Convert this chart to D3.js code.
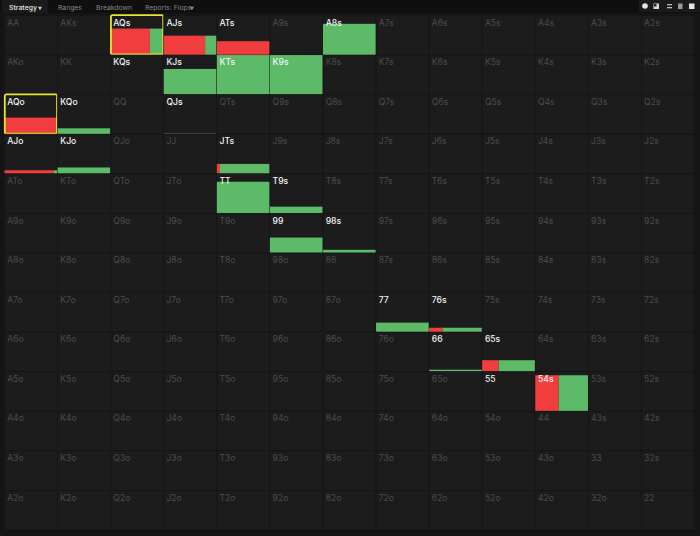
<!DOCTYPE html>
<html>
<head>
<meta charset="utf-8">
<script src="https://cdnjs.cloudflare.com/ajax/libs/d3/7.8.5/d3.min.js"></script>
<style>
  html, body { margin: 0; padding: 0; background: #151515; overflow: hidden; }
  text { font-family: Inter, "Noto Sans", sans-serif; }
</style>
</head>
<body>
<div id="chart"></div>
<script>
const ranks = ["A", "K", "Q", "J", "T", "9", "8", "7", "6", "5", "4", "3", "2"];

// hands in the strategy
const activeHands = ["AQs", "AJs", "ATs", "A8s", "KQs", "KJs", "KTs", "K9s", "AQo", "KQo", "QJs", "AJo", "KJo", "JTs", "TT", "T9s", "99", "98s", "77", "76s", "66", "65s", "55", "54s"];
const handFreq =    [0.67, 0.49, 0.35, 0.79, 0, 0.65, 1, 1, 0.42, 0.15, 0.03, 0.09, 0.16, 0.25, 0.80, 0.17, 0.39, 0.08, 0.24, 0.11, 0.05, 0.29, 0, 0.91];
const raiseShare =  [0.74, 0.78, 1, 0, 0, 0, 0, 0, 0.97, 0, 0, 0.93, 0, 0.06, 0, 0, 0, 0, 0, 0.25, 0, 0.31, 0, 0.44];
const callShare =   [0.26, 0.22, 0, 1, 0, 1, 1, 1, 0.03, 1, 0, 0.07, 1, 0.94, 1, 1, 1, 1, 1, 0.75, 1, 0.69, 0, 0.56];
const selectedHands = ["AQs", "AQo"];

const tabs = ["Strategy", "Ranges", "Breakdown", "Reports: Flops"];
const tabX = [9, 58, 96, 145];

const WIDTH = 700, HEIGHT = 536;
const RED = "#f23d3f", GREEN = "#5cba68", GREY = "#4c4c4c", YELLOW = "#e6e62e";

const svg = d3.select("#chart").append("svg")
    .attr("width", WIDTH).attr("height", HEIGHT)
    .style("display", "block");

svg.append("rect").attr("width", WIDTH).attr("height", HEIGHT).attr("fill", "#151515");

/* ---- top bar ---- */
svg.append("rect").attr("width", WIDTH).attr("height", 13).attr("fill", "#0f0f0f");
svg.append("rect").attr("x", 2).attr("width", 46).attr("height", 13).attr("fill", "#1a1a1a");

svg.selectAll("text.tab").data(tabs).enter().append("text")
    .attr("class", "tab")
    .attr("x", (d, i) => tabX[i])
    .attr("y", 9.5)
    .attr("font-size", 6.8)
    .attr("font-weight", (d, i) => i === 0 ? 600 : 400)
    .attr("fill", (d, i) => i === 0 ? "#d8d8d8" : "#858585")
    .text(d => d);

// little carets next to the two dropdown tabs
const caret = d3.symbol().type(d3.symbolTriangle).size(7);
svg.append("path").attr("d", caret).attr("transform", "translate(40,8) rotate(180)").attr("fill", "#d0d0d0");
svg.append("path").attr("d", caret).attr("transform", "translate(192,8) rotate(180)").attr("fill", "#909090");

/* ---- toolbar icons ---- */
const icons = svg.append("g");
icons.append("rect").attr("x", 639).attr("width", 61).attr("height", 12).attr("fill", "#1a1a1a");
icons.append("circle").attr("cx", 645).attr("cy", 6).attr("r", 2.8).attr("fill", "#e4e4e4");
icons.append("rect").attr("x", 653.5).attr("y", 3.5).attr("width", 5.5).attr("height", 5.5).attr("fill", "#d8d8d8");
icons.append("path").attr("d", "M654 4h2.5v2.5h-2.5z").attr("fill", "#222");
icons.append("rect").attr("x", 667).attr("y", 4).attr("width", 5).attr("height", 1.3).attr("fill", "#bbb");
icons.append("rect").attr("x", 667).attr("y", 7).attr("width", 5).attr("height", 1.3).attr("fill", "#bbb");
icons.append("rect").attr("x", 678).attr("y", 3.5).attr("width", 4.5).attr("height", 5.5).attr("fill", "#999");
icons.append("rect").attr("x", 689).attr("y", 3.5).attr("width", 5.5).attr("height", 5.5).attr("fill", "#e8e8e8");

/* ---- grid ---- */
const x = d3.scaleBand().domain(ranks).range([4.5, 694.5]);
const y = d3.scaleBand().domain(ranks).range([15.5, 530]);
const h = d3.scaleLinear().domain([0, 1]).range([0, y.bandwidth()]);
const w = d3.scaleLinear().domain([0, 1]).range([0, x.bandwidth()]);

const cells = [];
ranks.forEach((rowRank, r) => {
    ranks.forEach((colRank, c) => {
        let name;
        if (r === c) name = rowRank + colRank;
        else if (c > r) name = rowRank + colRank + "s";
        else name = colRank + rowRank + "o";
        const k = activeHands.indexOf(name);
        cells.push({
            name, rowRank, colRank,
            active: k >= 0,
            freq: k >= 0 ? handFreq[k] : 0,
            raise: k >= 0 ? raiseShare[k] : 0,
            call: k >= 0 ? callShare[k] : 0
        });
    });
});

const cell = svg.selectAll("g.cell").data(cells).enter().append("g")
    .attr("class", "cell")
    .attr("transform", d => `translate(${x(d.colRank)},${y(d.rowRank)})`);

cell.append("rect")
    .attr("width", x.bandwidth())
    .attr("height", y.bandwidth())
    .attr("fill", "#1c1c1c")
    .attr("stroke", "#161616")
    .attr("stroke-width", 0.8);

const barTop = d => y.bandwidth() - h(d.freq);

// fold / other part sits behind the coloured ones
cell.filter(d => d.freq > 0 && d.raise + d.call < 1).append("rect")
    .attr("y", barTop)
    .attr("width", w(1))
    .attr("height", d => h(d.freq))
    .attr("fill", GREY);

cell.filter(d => d.freq > 0 && d.raise > 0).append("rect")
    .attr("y", barTop)
    .attr("width", d => w(d.raise))
    .attr("height", d => h(d.freq))
    .attr("fill", RED);

cell.filter(d => d.freq > 0 && d.call > 0).append("rect")
    .attr("x", d => w(d.raise))
    .attr("y", barTop)
    .attr("width", d => w(d.call))
    .attr("height", d => h(d.freq))
    .attr("fill", GREEN);

cell.append("text")
    .attr("x", 2.7)
    .attr("y", 10.2)
    .attr("font-size", 8.6)
    .attr("font-weight", d => d.active ? 500 : 400)
    .attr("fill", d => d.active ? "#f4f4f4" : "#4b4b4b")
    .text(d => d.name);

/* ---- selected hands ---- */
cell.filter(d => selectedHands.includes(d.name)).append("rect")
    .attr("x", 0.3)
    .attr("y", -0.3)
    .attr("width", x.bandwidth() - 0.8)
    .attr("height", y.bandwidth() - 0.4)
    .attr("rx", 1.5)
    .attr("fill", "none")
    .attr("stroke", YELLOW)
    .attr("stroke-width", 1.8);
</script>
</body>
</html>
